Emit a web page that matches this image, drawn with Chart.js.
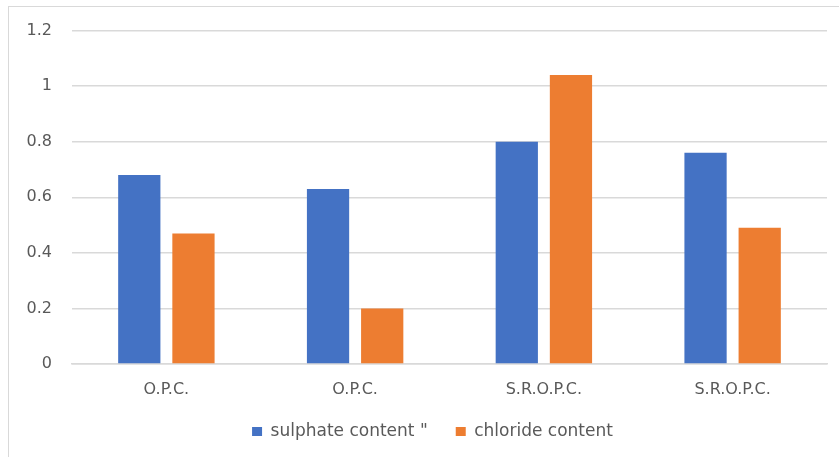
<!DOCTYPE html>
<html>
<head>
<meta charset="utf-8">
<script src="https://cdn.jsdelivr.net/npm/chart.js@4/dist/chart.umd.min.js"></script>
<style>
  html, body { margin: 0; padding: 0; background: #ffffff; }
  body { width: 839px; height: 457px; position: relative; overflow: hidden; }
  #frame {
    position: absolute; left: 8px; top: 6px; width: 831px; height: 451px;
    border-top: 1.5px solid #d9d9d9; border-left: 1.5px solid #d9d9d9;
    box-sizing: border-box;
  }
  #wrap { position: absolute; left: 1px; top: 1px; width: 829px; height: 449px; }
</style>
</head>
<body>
<div id="frame"><div id="wrap"><canvas id="chart"></canvas></div></div>
<script>
// Cement types and measured salt contents
const categories = ["O.P.C.", "O.P.C.", "S.R.O.P.C.", "S.R.O.P.C."];
const sulphateContent = [0.68, 0.63, 0.80, 0.76];
const chlorideContent = [0.47, 0.20, 1.04, 0.49];
const seriesNames = ["sulphate content \"", "chloride content"];
const yTicks = [0, 0.2, 0.4, 0.6, 0.8, 1, 1.2];

const FONT = "'DejaVu Sans', 'Open Sans', sans-serif";
const TEXT = "#595959";
const GRID = "#d9d9d9";

// Nudge the legend a little to the right of the canvas centre
const legendShift = {
  id: "legendShift",
  afterLayout(chart) {
    if (chart.legend) {
      chart.legend.left += 14;
      chart.legend.right += 14;
    }
  }
};

new Chart(document.getElementById("chart"), {
  type: "bar",
  data: {
    labels: categories,
    datasets: [
      { label: seriesNames[0], data: sulphateContent, backgroundColor: "#4472c4",
        categoryPercentage: 0.574, barPercentage: 0.78 },
      { label: seriesNames[1], data: chlorideContent, backgroundColor: "#ed7d31",
        categoryPercentage: 0.574, barPercentage: 0.78 }
    ]
  },
  plugins: [legendShift],
  options: {
    responsive: true,
    maintainAspectRatio: false,
    animation: false,
    layout: { padding: { top: 22.5, right: 12, bottom: 7, left: 0 } },
    plugins: {
      tooltip: { enabled: false },
      legend: {
        position: "bottom",
        labels: {
          font: { family: FONT, size: 17 },
          color: TEXT,
          boxWidth: 10,
          boxHeight: 9,
          padding: 28
        }
      }
    },
    scales: {
      x: {
        afterFit: (scale) => { scale.height = 31; },
        grid: { display: false, drawTicks: false },
        border: { display: true, color: GRID, width: 1.5 },
        ticks: { font: { family: FONT, size: 16 }, color: TEXT, padding: 16 }
      },
      y: {
        min: 0,
        max: 1.2,
        afterFit: (scale) => { scale.width = 62; },
        afterBuildTicks: (scale) => { scale.ticks = yTicks.map(v => ({ value: v })); },
        grid: { color: GRID, lineWidth: 1.5, drawTicks: true, tickLength: 8, tickColor: "rgba(0,0,0,0)" },
        border: { display: false },
        ticks: {
          font: { family: FONT, size: 16 },
          color: TEXT,
          padding: 12,
          callback: (v) => String(Math.round(v * 10) / 10)
        }
      }
    }
  }
});
</script>
</body>
</html>
